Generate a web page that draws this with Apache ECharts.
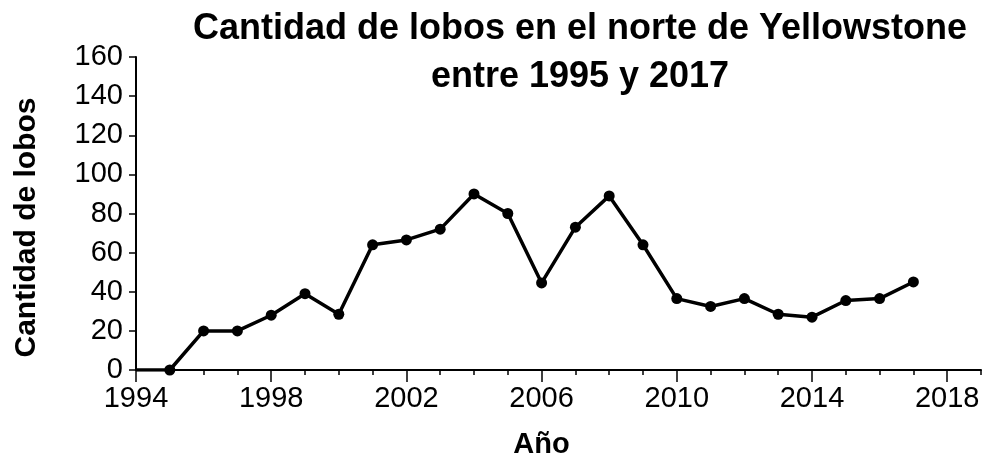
<!DOCTYPE html>
<html>
<head>
<meta charset="utf-8">
<script src="https://cdn.jsdelivr.net/npm/echarts@6/dist/echarts.min.js"></script>
<style>
  html, body { margin: 0; padding: 0; background: #fff; }
  #chart { width: 986px; height: 464px; }
</style>
</head>
<body>
<div id="chart"></div>
<script>
  // años y cantidad de lobos
  var years = [1994, 1995, 1996, 1997, 1998, 1999, 2000, 2001, 2002, 2003, 2004, 2005,
    2006, 2007, 2008, 2009, 2010, 2011, 2012, 2013, 2014, 2015, 2016, 2017]
  var wolves = [0, 0, 20, 20, 28, 39, 28.5, 64, 66.5, 72, 90, 80,
    44.5, 73, 89, 64, 36.5, 32.5, 36.5, 28.5, 27, 35.5, 36.5, 45]
  var xLabels = [1994, 1998, 2002, 2006, 2010, 2014, 2018]
  var yTicks = [0, 20, 40, 60, 80, 100, 120, 140, 160]

  var font = 'Liberation Sans, Arial, sans-serif'
  var chart = echarts.init(document.getElementById('chart'))

  var points = years.map(function (y, i) {
    var item = {value: [y, wolves[i]]}
    // el primer tramo (1994) no lleva punto
    if (y === 1994) item.symbolSize = 0
    return item
  })

  chart.setOption({
    animation: false,
    title: {
      text: 'Cantidad de lobos en el norte de Yellowstone\nentre 1995 y 2017',
      left: 575,
      top: 0,
      textAlign: 'center',
      textStyle: {
        fontFamily: font,
        fontWeight: 'bold',
        fontSize: 36,
        lineHeight: 48,
        color: '#000'
      }
    },
    grid: {
      left: 136,
      right: 5,
      top: 57,
      bottom: 94,
      containLabel: false,
      outerBoundsMode: 'none'
    },
    xAxis: [
      {
        type: 'value',
        position: 'bottom',
        min: 1994,
        max: 2019,
        interval: 1,
        name: 'Año',
        nameLocation: 'middle',
        nameGap: 60,
        nameTextStyle: {fontFamily: font, fontWeight: 'bold', fontSize: 29, color: '#000', padding: [0, 34, 0, 0]},
        axisLine: {lineStyle: {color: '#000', width: 2}},
        axisTick: {length: 5, lineStyle: {color: '#000', width: 1.5}},
        axisLabel: {
          fontFamily: font,
          fontSize: 29,
          color: '#000',
          margin: 14,
          customValues: xLabels,
          formatter: function (v) { return String(v) }
        },
        splitLine: {show: false}
      },
      {
        // marcas largas cada 4 años
        type: 'value',
        position: 'bottom',
        offset: 0,
        min: 1994,
        max: 2019,
        interval: 1,
        axisLine: {show: false},
        axisTick: {length: 12, customValues: xLabels, lineStyle: {color: '#000', width: 1.5}},
        axisLabel: {show: false},
        splitLine: {show: false}
      }
    ],
    yAxis: {
      type: 'value',
      min: yTicks[0],
      max: yTicks[yTicks.length - 1],
      interval: 20,
      name: 'Cantidad de lobos',
      nameLocation: 'middle',
      nameGap: 94,
      nameRotate: 90,
      nameTextStyle: {fontFamily: font, fontWeight: 'bold', fontSize: 30, color: '#000', padding: [0, 28, 0, 0]},
      axisLine: {show: true, lineStyle: {color: '#000', width: 2}},
      axisTick: {show: true, length: 7, lineStyle: {color: '#000', width: 1.5}},
      axisLabel: {fontFamily: font, fontSize: 29, color: '#000', margin: 13},
      splitLine: {show: false}
    },
    series: [
      {
        type: 'line',
        xAxisIndex: 0,
        data: points,
        symbol: 'circle',
        symbolSize: 11,
        itemStyle: {color: '#000'},
        lineStyle: {color: '#000', width: 3.5}
      }
    ]
  })
</script>
</body>
</html>
